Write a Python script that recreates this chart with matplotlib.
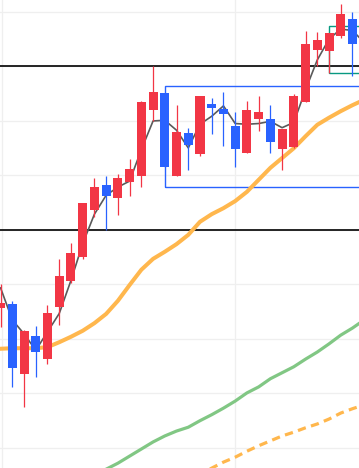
import matplotlib
matplotlib.use("Agg")
from matplotlib import pyplot as plt
from matplotlib.patches import Rectangle
import numpy as np
import pandas as pd

# candles, index -2..31 (the first two and the last one sit outside the view)
idx = np.arange(-2, 32)
opens = [43450, 43230, 42570, 42640, 41360, 42050, 41630, 42590, 43060, 43500,
         44370, 44830, 44590, 44880, 44990, 46200, 46510, 44990, 45780, 45390,
         46310, 46220, 45910, 45410, 46040, 46040, 45490, 45520, 46350, 47300,
         47280, 47560, 47870, 47410]
highs = [43540, 43300, 43010, 42700, 42160, 42240, 42620, 43470, 43760, 44500,
         44950, 44990, 45030, 45300, 46370, 47010, 46510, 46290, 45870, 46460,
         46420, 46530, 46170, 46370, 46460, 46290, 45850, 46500, 47650, 47630,
         47610, 48150, 48000, 47490]
lows = [43120, 42810, 42220, 41120, 40750, 41300, 41540, 42260, 43030, 43470,
        44240, 44000, 44270, 44620, 44790, 46000, 45160, 44990, 45100, 45360,
        45760, 45540, 45160, 45410, 45820, 45410, 45100, 45500, 46350, 47010,
        46880, 47520, 46830, 46840]
closes = [43230, 42920, 42660, 41470, 42150, 41760, 42480, 43160, 43580, 44500,
          44790, 44620, 44950, 45120, 46350, 46530, 45160, 45800, 45560, 46460,
          46240, 46130, 45490, 46200, 46170, 45610, 45850, 46460, 47410, 47490,
          47610, 47960, 47410, 46950]

# longer moving averages (None = below the view)
ma_orange = [41810, 41810, 41820, 41830, 41830, 41830, 41850, 41940, 42040, 42150,
             42290, 42460, 42700, 42990, 43270, 43470, 43600, 43740, 43910, 44150,
             44290, 44400, 44530, 44700, 44920, 45140, 45320, 45500, 45720, 45930,
             46060, 46180, 46290, 46390]
ma_green = [None] * 10 + [39500, 39610, 39720, 39850, 39980, 40110, 40220, 40310,
                          40380, 40500, 40610, 40730, 40860, 41010, 41120, 41270,
                          41380, 41490, 41630, 41760, 41910, 42070, 42200, 42350]
ma_dashed = [None] * 19 + [39520, 39630, 39740, 39830, 39940, 40040, 40130, 40220,
                           40290, 40370, 40440, 40530, 40640, 40720, 40790]

levels = [47000, 44000]
blue_box = (14, 44780, 46650)   # start index, bottom, top
green_box = (28, 46880, 47740)

UP = "#F23645"
DOWN = "#2962FF"

df = pd.DataFrame({"open": opens, "high": highs, "low": lows, "close": closes}, index=idx)
df["ma3"] = df["close"].rolling(3).mean()
up = df["close"] >= df["open"]
colors = np.where(up, UP, DOWN)

fig = plt.figure(figsize=(3.59, 4.68), dpi=100)
ax = fig.add_axes([0, 0, 1, 1])

ax.set_yticks(np.arange(39000, 49000, 1000))
ax.set_xticks([0.1, 20])
ax.grid(True, color="#efefef", linewidth=0.9)
ax.tick_params(length=0, labelleft=False, labelbottom=False)
for s in ax.spines.values():
    s.set_visible(False)

for lv in levels:
    ax.axhline(lv, color="black", linewidth=1.2, zorder=2)

ax.add_patch(Rectangle((blue_box[0], blue_box[1]), 40, blue_box[2] - blue_box[1],
                       fill=False, edgecolor="#2962FF", linewidth=1.0, zorder=2))
ax.add_patch(Rectangle((green_box[0], green_box[1]), 40, green_box[2] - green_box[1],
                       fill=False, edgecolor="#089981", linewidth=1.0, zorder=2))

ax.plot(idx, np.array(ma_orange, dtype=float), color="#FFB74D", linewidth=2.9, zorder=3)
ax.plot(idx, np.array(ma_green, dtype=float), color="#81C784", linewidth=2.3, zorder=3)
ax.plot(idx, np.array(ma_dashed, dtype=float), color="#FFB74D", linewidth=2.3,
        dashes=(2.6, 1.7), zorder=3)
ax.plot(idx, df["ma3"], color="#5a5a5a", linewidth=1.2, zorder=3)

ax.vlines(idx, df["low"], df["high"], colors=colors, linewidth=0.9, zorder=4)
ax.bar(idx, (df["close"] - df["open"]).abs(), bottom=df[["open", "close"]].min(axis=1),
       width=0.77, color=colors, linewidth=0, zorder=5)

ax.set_xlim(-0.049, 30.556)
ax.set_ylim(39632, 48220)

fig.savefig("out.png", dpi=100)
